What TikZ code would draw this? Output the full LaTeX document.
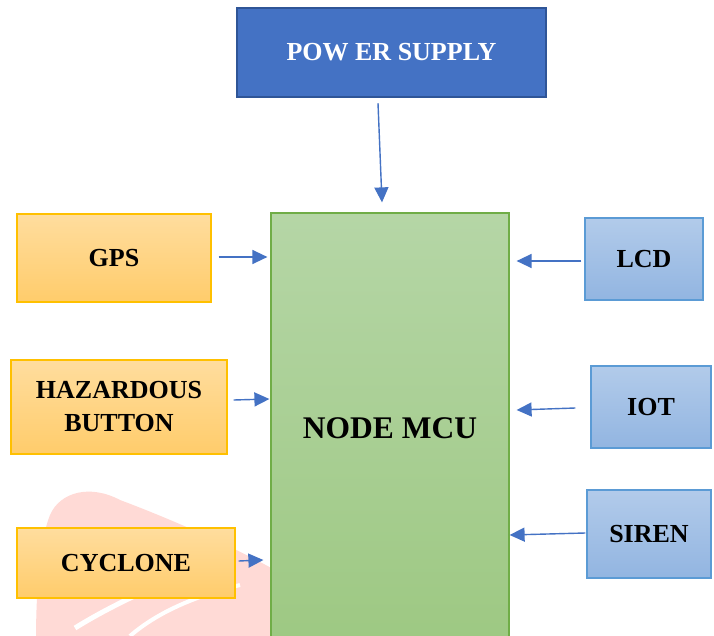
\documentclass[tikz,border=0pt]{standalone}
\usepackage{fontspec}
\setmainfont{Liberation Serif}
\usetikzlibrary{arrows.meta,calc}
\definecolor{psfill}{HTML}{4472C4}
\definecolor{psdraw}{HTML}{2F5597}
\definecolor{arrowblue}{HTML}{4472C4}
\definecolor{mcutop}{HTML}{B5D6A6}
\definecolor{mcubot}{HTML}{9DC882}
\definecolor{mcudraw}{HTML}{70AD47}
\definecolor{ortop}{HTML}{FFDD9E}
\definecolor{orbot}{HTML}{FFCC6B}
\definecolor{ordraw}{HTML}{FFC000}
\definecolor{bltop}{HTML}{B2CBEA}
\definecolor{blbot}{HTML}{92B5E1}
\definecolor{bldraw}{HTML}{5B9BD5}
\definecolor{wmpink}{HTML}{FFDAD6}
\tikzset{
  lbl/.style={font=\fontsize{26}{33}\selectfont\bfseries, align=center, inner sep=0pt},
  orbox/.style={lbl, draw=ordraw, line width=1.3pt, top color=ortop, bottom color=orbot},
  blbox/.style={lbl, draw=bldraw, line width=1.3pt, top color=bltop, bottom color=blbot},
  arr/.style={draw=arrowblue, line width=1.4pt, -{Triangle[length=15pt,width=14pt]}}
}
\begin{document}
\begin{tikzpicture}[x=1pt,y=-1pt]
\useasboundingbox (0,0) rectangle (714,636);
\clip (0,0) rectangle (714,636);
\fill[white] (0,0) rectangle (714,636);
% watermark blob
\fill[wmpink] (36,640) .. controls (36,590) and (40,540) .. (50,515)
  .. controls (60,492) and (90,484) .. (120,500)
  .. controls (160,515) and (220,540) .. (275,570) -- (275,640) -- cycle;
\draw[white, line width=5pt] (75,628) .. controls (120,600) and (170,580) .. (215,560);
\draw[white, line width=4pt] (130,636) .. controls (160,610) and (200,595) .. (240,585);
% boxes
\node[lbl, draw=psdraw, line width=2.5pt, fill=psfill, text=white,
  minimum width=309pt, minimum height=89pt] (ps) at (391.5,52.5) {POW ER SUPPLY};
\node[lbl, draw=mcudraw, line width=1.2pt, top color=mcutop, bottom color=mcubot,
  minimum width=238pt, minimum height=437pt,
  font=\fontsize{31.5}{38}\selectfont\bfseries] (mcu) at (390,431.5) {};
\node[font=\fontsize{31.5}{38}\selectfont\bfseries, inner sep=0pt] (mcutxt) at (390,428) {NODE MCU};
\node[orbox, minimum width=194pt, minimum height=88pt] (gps) at (114,258) {GPS};
\node[orbox, minimum width=216pt, minimum height=94pt] (haz) at (119,407) {HAZARDOUS\\BUTTON};
\node[orbox, minimum width=218pt, minimum height=70pt] (cyc) at (126,563) {CYCLONE};
\node[blbox, minimum width=118pt, minimum height=82pt] (lcd) at (644,259) {LCD};
\node[blbox, minimum width=120pt, minimum height=82pt] (iot) at (651,407) {IOT};
\node[blbox, minimum width=124pt, minimum height=88pt] (siren) at (649,534) {SIREN};
% connectors
\draw[arr] ($(ps.south)+(-13.5,5)$) -- ($(mcu.north)+(-8,-10)$);
\draw[arr] ($(gps.east)+(7,-1)$) -- ($(mcu.west |- gps.east)+(-3,-1)$);
\draw[arr] ($(haz.east)+(6,-7)$) -- ($(mcu.west |- haz.east)+(-1,-8)$);
\draw[arr] ($(cyc.east)+(3,-2)$) -- ($(mcu.west |- cyc.east)+(-7,-3)$);
\draw[arr] ($(lcd.west)+(-3,2)$) -- ($(mcu.east |- lcd.west)+(7,2)$);
\draw[arr] ($(iot.west)+(-15,1)$) -- ($(mcu.east |- iot.west)+(7,3)$);
\draw[arr] ($(siren.west)+(-1,-1)$) -- ($(mcu.east |- siren.west)+(0,1)$);
\end{tikzpicture}
\end{document}
